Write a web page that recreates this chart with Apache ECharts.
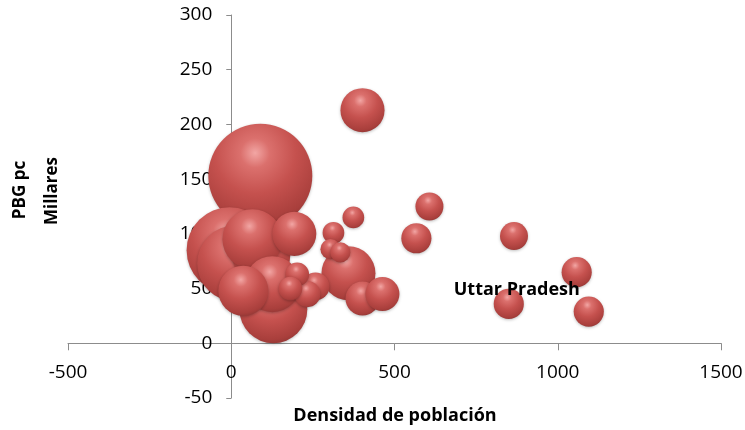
<!DOCTYPE html>
<html>
<head>
<meta charset="utf-8">
<script src="https://cdn.jsdelivr.net/npm/echarts@6/dist/echarts.min.js"></script>
<style>
  html, body { margin: 0; padding: 0; background: #fff; }
  #chart { width: 745px; height: 430px; }
</style>
</head>
<body>
<div id="chart"></div>
<script>
// densidad de población, PBG pc (millares), tamaño de burbuja
// ordered largest first so the small bubbles sit on top
const names = ["", "", "", "", "", "", "", "", "", "", "", "", "", "", "", "", "", "", "", "", "", "", "", "", "", "Uttar Pradesh", ""];
const density = [89, -5, 12, 129, 92, 65, 126, 359, 37, 193, 402, 402, 463, 607, 567, 866, 1058, 258, 233, 202, 181, 313, 374, 304, 334, 850, 1095];
const pbg = [153, 85, 73, 31, 80, 95, 54, 64, 48, 100, 213, 41, 45, 125, 96, 98, 65, 52, 45, 63, 50, 101, 115, 86, 83, 36, 29];
const size = [345, 236, 184, 147, 107, 115, 100, 93, 80, 62, 62, 37, 37, 25, 29, 25, 29, 25, 22, 18, 18, 15, 15, 13, 13, 29, 29];

const xTicks = { min: -500, max: 1500, interval: 500 };
const yTicks = { min: -50, max: 300, interval: 50 };

const gridBox = { left: 68, right: 24, top: 15, bottom: 32 };

const chart = echarts.init(document.getElementById("chart"));

const bubbleFill = new echarts.graphic.RadialGradient(0.45, 0.28, 0.78, [
  { offset: 0, color: "#f2a6a4" },
  { offset: 0.18, color: "#db706d" },
  { offset: 0.5, color: "#c5514e" },
  { offset: 0.85, color: "#a93f3c" },
  { offset: 1, color: "#8a3432" }
]);

const bubbleSize = v => Math.sqrt(v[2]) * 5.6;

const points = density.map((d, i) => {
  const value = [d, pbg[i], size[i]];
  const half = bubbleSize(value) / 2;
  return {
    name: names[i],
    value: value,
    label: names[i] ? {
      show: true,
      formatter: "{b}",
      // label centre sits a little right of and above the bubble centre
      position: [half + 8, half - 14],
      align: "center",
      verticalAlign: "middle",
      color: "#000",
      fontFamily: "Open Sans",
      fontWeight: "bold",
      fontSize: 18
    } : { show: false }
  };
});

const axisText = { color: "#000", fontFamily: "Open Sans", fontSize: 19, formatter: v => String(v) };

chart.setOption({
  animation: false,
  backgroundColor: "#fff",
  grid: Object.assign({ outerBoundsMode: "none" }, gridBox),
  xAxis: {
    type: "value",
    min: xTicks.min, max: xTicks.max, interval: xTicks.interval,
    splitLine: { show: false },
    axisLine: { onZero: false, lineStyle: { color: "#8c8c8c", width: 1 } },
    axisTick: { show: true, length: 7, lineStyle: { color: "#8c8c8c" } },
    axisLabel: Object.assign({ margin: 20 }, axisText)
  },
  yAxis: {
    type: "value",
    min: yTicks.min, max: yTicks.max, interval: yTicks.interval,
    splitLine: { show: false },
    axisLine: { onZero: false, lineStyle: { color: "#8c8c8c", width: 1 } },
    axisTick: { show: true, length: 5, lineStyle: { color: "#8c8c8c" } },
    axisLabel: Object.assign({ margin: 19 }, axisText)
  },
  graphic: [
    {
      type: "text", x: 20, y: 190, rotation: Math.PI / 2,
      style: { text: "PBG pc", fill: "#000", font: "bold 17px 'Open Sans'", align: "center", verticalAlign: "middle" }
    },
    {
      type: "text", x: 52, y: 191, rotation: Math.PI / 2,
      style: { text: "Millares", fill: "#000", font: "bold 17px 'Open Sans'", align: "center", verticalAlign: "middle" }
    },
    {
      type: "text", x: 395, y: 416,
      style: { text: "Densidad de población", fill: "#000", font: "bold 18px 'Open Sans'", align: "center", verticalAlign: "middle" }
    }
  ],
  series: [
    {
      type: "scatter",
      data: points,
      symbolSize: bubbleSize,
      itemStyle: {
        color: bubbleFill,
        opacity: 1,
        shadowColor: "rgba(0,0,0,0.25)",
        shadowBlur: 3,
        shadowOffsetY: 1
      },
      labelLayout: { hideOverlap: false }
    }
  ]
});

// move both axes (line, ticks, labels) to cross at zero
const origin = chart.convertToPixel({ gridIndex: 0 }, [0, 0]);
chart.setOption({
  yAxis: { offset: gridBox.left - origin[0] },
  xAxis: { offset: origin[1] - (430 - gridBox.bottom) }
});
</script>
</body>
</html>
